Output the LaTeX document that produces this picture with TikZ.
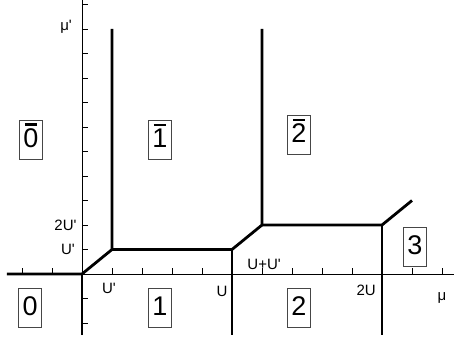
\documentclass[tikz,border=0pt]{standalone}
\usepackage{fontspec}
\setmainfont{Liberation Sans}
\usepackage{tikz}
\usetikzlibrary{calc}
\definecolor{CajaGris}{RGB}{70,70,70}
\newcommand\prima{\textquotesingle}
\newcommand\barra[1]{\vbox{\offinterlineskip\halign{\hfil##\hfil\cr\rule{0.45em}{0.09em}\cr\noalign{\kern0.1em}#1\cr}}}

\begin{document}
\begin{tikzpicture}[x=30pt,y=24.5pt,
  eje/.style={line width=0.8pt},
  frontera/.style={line width=2.8pt},
  fase/.style={draw=CajaGris,line width=0.6pt,inner xsep=4pt,inner ysep=0pt,
    text height=27pt,text depth=12pt,font=\fontsize{27}{30}\selectfont},
  etiqueta/.style={font=\fontsize{15}{17}\selectfont,inner sep=0pt}]
  \useasboundingbox (-2.7333,-2.7755) rectangle (12.4,11.1837);
  % ejes
  \coordinate (O) at (0,0);
  \coordinate (Xizq) at (-2.5,0);
  \coordinate (Xder) at (12.4,0);
  \coordinate (Yarr) at (0,11.2);
  \coordinate (Yab) at (0,-2.49);
  \draw[eje] (Xizq) -- (Xder);
  \draw[eje] (Yab) -- (Yarr);
  \foreach \i in {-2,-1,1,2,...,12} \draw[eje] (\i,0) -- ++(0,6pt);
  \foreach \j in {-2,-1,1,2,...,11} \draw[eje] (0,\j) -- ++(6pt,0);
  % fronteras
  \coordinate (A) at (1,1);
  \coordinate (B) at (5,1);
  \coordinate (C) at (6,2);
  \coordinate (D) at (10,2);
  \draw[frontera] (Xizq) -- (O) -- (A) -- (1,10);
  \draw[frontera] (Yab) -- (O);
  \draw[frontera] (A) -- (B) -- (C) -- (6,10);
  \draw[frontera] (B) -- (5,-2.49);
  \draw[frontera] (C) -- (D) -- (11,3);
  \draw[line width=2.2pt] (D) -- (10,-2.49);
  % etiquetas de los ejes
  \node[etiqueta] (mup) at (-0.53,10.1) {μ\prima};
  \node[etiqueta] (dosUp) at (-0.55,2) {2U\prima};
  \node[etiqueta] (Upy) at (-0.47,1.02) {U\prima};
  \node[etiqueta] (Upx) at (0.9,-0.57) {U\prima};
  \node[etiqueta] (U) at (4.67,-0.73) {U};
  \node[etiqueta] (UUp) at (6.07,0.41) {U+U\prima};
  \node[etiqueta] (dosU) at (9.47,-0.65) {2U};
  \node[etiqueta] (mu) at (12,-0.98) {μ};
  % fases
  \node[fase] (f0b) at (-1.7,5.47) {\barra{0}};
  \node[fase] (f1b) at (2.6,5.47) {\barra{1}};
  \node[fase] (f2b) at (7.23,5.67) {\barra{2}};
  \node[fase] (f0) at (-1.73,-1.37) {0};
  \node[fase] (f1) at (2.6,-1.39) {1};
  \node[fase] (f2) at (7.23,-1.37) {2};
  \node[fase] (f3) at (11.1,1.1) {3};
\end{tikzpicture}
\end{document}
